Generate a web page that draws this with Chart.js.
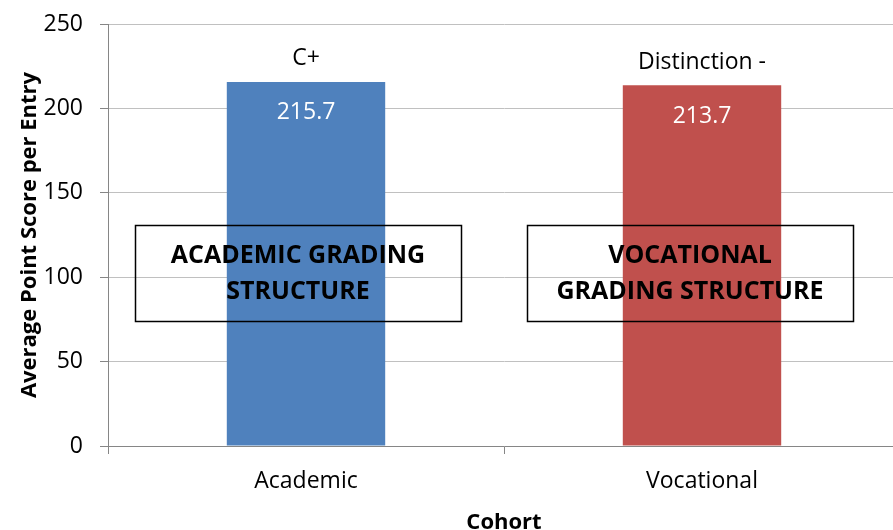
<!DOCTYPE html>
<html><head><meta charset="utf-8">
<script src="https://cdn.jsdelivr.net/npm/chart.js@4"></script>
<style>html,body{margin:0;padding:0;overflow:hidden;background:#fff}
#wrap{position:relative;width:905px;height:530px}</style>
</head><body><div id="wrap"><canvas id="c"></canvas></div>
<script>
const categories = ["Academic", "Vocational"];
const scores = [215.7, 213.7];
const gradeLabels = ["C+", "Distinction -"];
const structureLabels = [["ACADEMIC GRADING", "STRUCTURE"], ["VOCATIONAL", "GRADING STRUCTURE"]];
const barColors = ["#4f81bd", "#c0504d"];
const yAxisTitle = "Average Point Score per Entry";
const xAxisTitle = "Cohort";

const FONT = "'Open Sans', 'Noto Sans', sans-serif";
const BOX_SHIFT = [-8, -12];

const overlay = {
  id: 'overlay',
  afterDatasetsDraw(chart) {
    const ctx = chart.ctx, x = chart.scales.x, y = chart.scales.y;
    const meta = chart.getDatasetMeta(0);
    ctx.save();
    ctx.textAlign = 'center';
    ctx.textBaseline = 'middle';
    meta.data.forEach((bar, i) => {
      ctx.font = "23px " + FONT;
      ctx.fillStyle = '#ffffff';
      ctx.fillText(scores[i].toFixed(1), bar.x, bar.y + 31);
      ctx.fillStyle = '#000000';
      ctx.fillText(gradeLabels[i], bar.x, bar.y - 23);
      const cx = x.getPixelForValue(i) + BOX_SHIFT[i];
      const w = 326;
      const top = y.getPixelForValue(131), bot = y.getPixelForValue(74);
      ctx.lineWidth = 1.5;
      ctx.strokeStyle = '#000000';
      ctx.strokeRect(Math.round(cx - w / 2) + 0.5, Math.round(top) + 0.5, w, Math.round(bot - top));
      ctx.font = "bold 25px " + FONT;
      ctx.fillText(structureLabels[i][0], cx, y.getPixelForValue(112.4));
      ctx.fillText(structureLabels[i][1], cx, y.getPixelForValue(91.6));
    });
    ctx.restore();
  }
};

new Chart(document.getElementById('c'), {
  type: 'bar',
  data: {
    labels: categories,
    datasets: [{
      data: scores,
      backgroundColor: barColors,
      borderWidth: 0,
      barPercentage: 0.4,
      categoryPercentage: 1.0
    }]
  },
  options: {
    responsive: true,
    maintainAspectRatio: false,
    animation: false,
    layout: { padding: { top: 24, right: 5, left: 0, bottom: 0 } },
    plugins: { legend: { display: false }, tooltip: { enabled: false } },
    scales: {
      x: {
        afterFit(s) { s.height = 84; s.paddingLeft = 0; s.paddingRight = 0; },
        grid: { display: true, drawOnChartArea: false, drawTicks: true, tickLength: 8, offset: true, color: '#868686' },
        border: { color: '#868686', width: 1 },
        ticks: { color: '#000', font: { family: FONT, size: 23 }, padding: 14 },
        title: { display: true, text: xAxisTitle, color: '#000', font: { family: FONT, size: 22, weight: 'bold', lineHeight: 0.7 }, padding: { top: 0, bottom: 0 } }
      },
      y: {
        min: 0, max: 250,
        afterFit(s) { s.width = 108; s.paddingTop = 0; s.paddingBottom = 0; },
        ticks: { stepSize: 50, color: '#000', font: { family: FONT, size: 23 }, padding: 17 },
        grid: { color: '#c0c0c0', tickLength: 8, tickColor: '#868686' },
        border: { color: '#868686', width: 1 },
        title: { display: true, text: yAxisTitle, color: '#000', font: { family: FONT, size: 22, weight: 'bold', lineHeight: 1 }, padding: { top: 19, bottom: 0 } }
      }
    }
  },
  plugins: [overlay]
});
</script></body></html>
